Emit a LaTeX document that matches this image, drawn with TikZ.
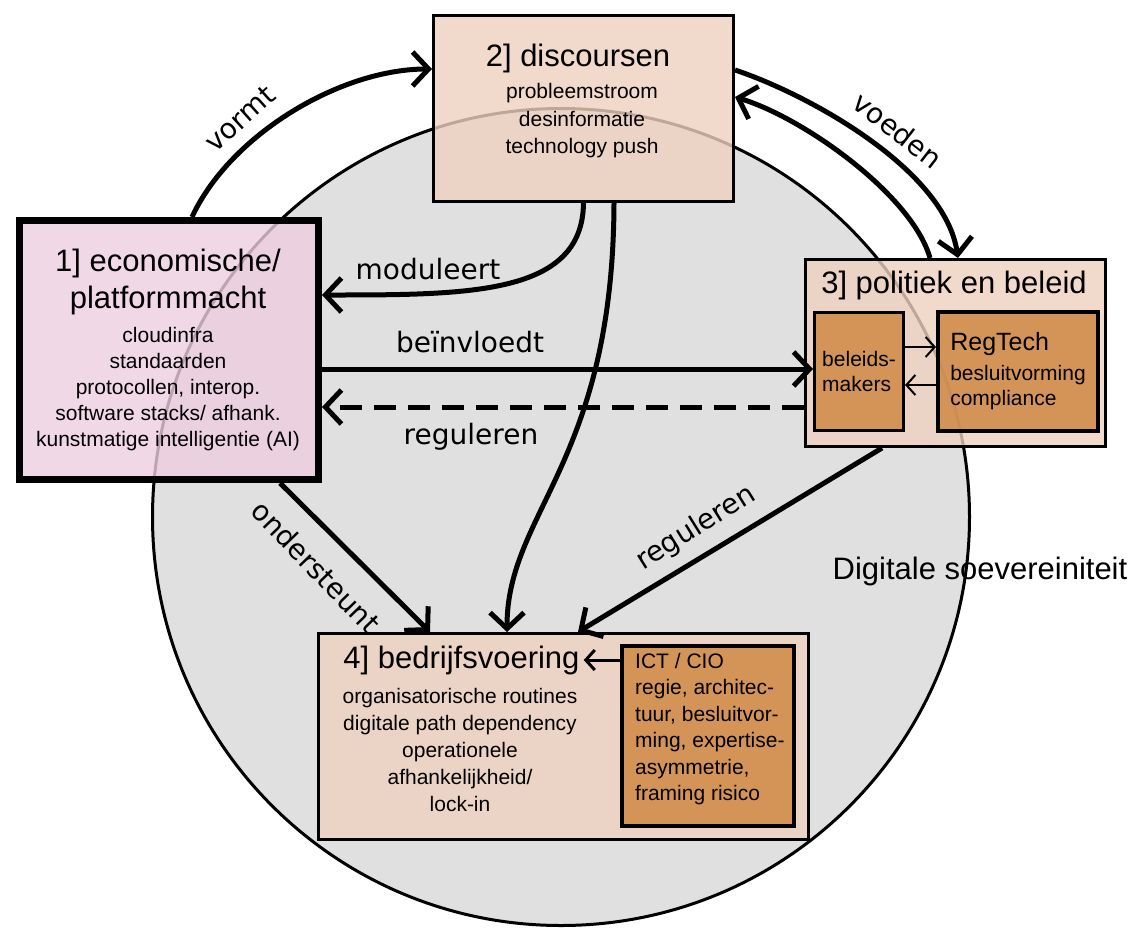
\documentclass[tikz,border=0pt]{standalone}
\usepackage{fontspec}
\setmainfont{Liberation Sans}
\newfontfamily\lblfont{DejaVu Sans}
\usetikzlibrary{arrows.meta,positioning}

\definecolor{circlegray}{HTML}{E0E0E0}
\definecolor{econpink}{HTML}{EECEE0}
\definecolor{peach}{HTML}{EED0BF}
\definecolor{ochre}{HTML}{D08945}

\tikzset{
  box/.style={draw, line width=3pt, fill=peach, fill opacity=.8, text opacity=1, inner sep=0pt},
  subbox/.style={box, fill=ochre, fill opacity=.85, font=\fontsize{21}{25}\selectfont, align=left},
  ttl/.style={font=\fontsize{31}{37}\selectfont, align=center, inner sep=2pt},
  sub/.style={font=\fontsize{21}{26}\selectfont, align=center, inner sep=0pt},
  lbl/.style={font=\lblfont\fontsize{28}{34}\selectfont, inner sep=0pt},
  flow/.style={line width=5pt, -{Straight Barb[length=16pt,width=34pt]}},
  minor/.style={line width=2pt, -{Straight Barb[length=9pt,width=20pt]}}
}

\begin{document}
\begin{tikzpicture}[x=1pt,y=-1pt]
        \useasboundingbox (0,0) rectangle (1135,927);
        % circle
        \node[circle, draw, line width=3pt, fill=circlegray, minimum size=817pt, inner sep=0pt] (sov) at (561,517) {};
        \node[ttl] (sovt) at (980,571) {Digitale soevereiniteit};
        % boxes
        \node[box, line width=7pt, fill=econpink, minimum width=299pt, minimum height=259pt] (b1) at (169,350) {};
        \node[box, minimum width=300pt, minimum height=186pt] (b2) at (583.5,108.5) {};
        \node[box, minimum width=300pt, minimum height=187pt] (b3) at (955.5,353) {};
        \node[subbox, minimum width=89pt, minimum height=118pt] (b3a) at (859,371.5) {beleids-\\makers};
        \node[subbox, line width=4pt, minimum width=160pt, minimum height=119pt] (b3b) at (1018,371.5)
            {{\fontsize{25}{30}\selectfont RegTech}\\[5pt]besluitvorming\\compliance};
        \node[box, minimum width=490pt, minimum height=206pt] (b4) at (563.5,736.5) {};
        \node[subbox, line width=4pt, minimum width=172pt, minimum height=180pt] (b4a) at (708,736) {};
        % texts of box 1
        \node[ttl] (t1) at (168,281.5) {1] economische/\\platformmacht};
        \node[sub] (s1) at (168,389.5) {cloudinfra\\standaarden\\protocollen, interop.\\software stacks/ afhank.\\kunstmatige intelligentie (AI)};
        % texts of box 2
        \node[ttl] (t2) at (578,58) {2] discoursen};
        \node[sub, font=\fontsize{21}{27.5}\selectfont] (s2) at (582,121) {probleemstroom\\desinformatie\\technology push};
        % texts of box 3
        \node[ttl] (t3) at (954,285) {3] politiek en beleid};
        % texts of box 4
        \node[ttl, inner sep=4pt] (t4) at (461.5,660) {4] bedrijfsvoering};
        \node[sub, font=\fontsize{21}{27}\selectfont] (s4) at (460,749.5) {organisatorische routines\\digitale path dependency\\operationele\\afhankelijkheid/\\lock-in};
        \node[sub, align=left, anchor=west, font=\fontsize{21}{26.4}\selectfont] (s4a) at (635,729)
            {ICT / CIO\\regie, architec-\\tuur, besluitvor-\\ming, expertise-\\asymmetrie,\\framing risico};
        % vormt
        \draw[flow] ([xshift=23pt]b1.north) .. controls +(38,-82) and +(-92,0) .. ([yshift=39.5pt]b2.west);
        % voeden
        \draw[flow] ([yshift=38.5pt]b2.east) .. controls +(75,25) and +(-13,-88) .. ([xshift=2.5pt]b3.north);
        \draw[flow] ([xshift=-25.5pt]b3.north) .. controls +(-18,-63) and +(69,21) .. ([yshift=11.5pt]b2.east);
        % moduleert
        \draw[flow] (b2.south) .. controls +(-1,92) and +(148,0) .. ([yshift=55pt]b1.east);
        % beinvloedt and reguleren
        \draw[flow] ([yshift=-19pt]b1.east) -- ([yshift=-19pt]b1.east -| b3a.west);
        \draw[flow, dash pattern=on 22pt off 12pt] ([yshift=-57pt]b1.east -| b3.west) -- ([yshift=-57pt]b1.east);
        % into bedrijfsvoering
        \draw[flow] ([xshift=111pt]b1.south) -- ([xshift=-133.5pt]b4.north);
        \draw[flow] ([xshift=30.5pt]b2.south) .. controls +(-1,260) and +(0,-120) .. ([xshift=-56.5pt]b4.north);
        \draw[flow] ([xshift=-73.5pt]b3.south) -- ([xshift=14.5pt]b4.north);
        % small arrows
        \draw[minor] ([yshift=24.5pt]b3a.east) -- ([yshift=24.5pt]b3a.east -| b3b.west);
        \draw[minor] ([yshift=-13.5pt]b3b.west) -- ([yshift=-13.5pt]b3b.west -| b3a.east);
        \draw[minor, line width=3pt] (b4a.west |- t4.east) -- (t4.east);
        % labels
        \node[lbl, rotate=42] (lvormt) at (240,119) {vormt};
        \node[lbl, rotate=-38] (lvoeden) at (898,130) {voeden};
        \node[lbl] (lmod) at (428,269) {moduleert};
        \node[lbl] (lbeinv) at (470,342) {beïnvloedt};
        \node[lbl] (lreg) at (471,437) {reguleren};
        \node[lbl, rotate=-46] (londer) at (316,567) {ondersteunt};
        \node[lbl, rotate=32] (lreg2) at (696,528) {reguleren};
\end{tikzpicture}
\end{document}
